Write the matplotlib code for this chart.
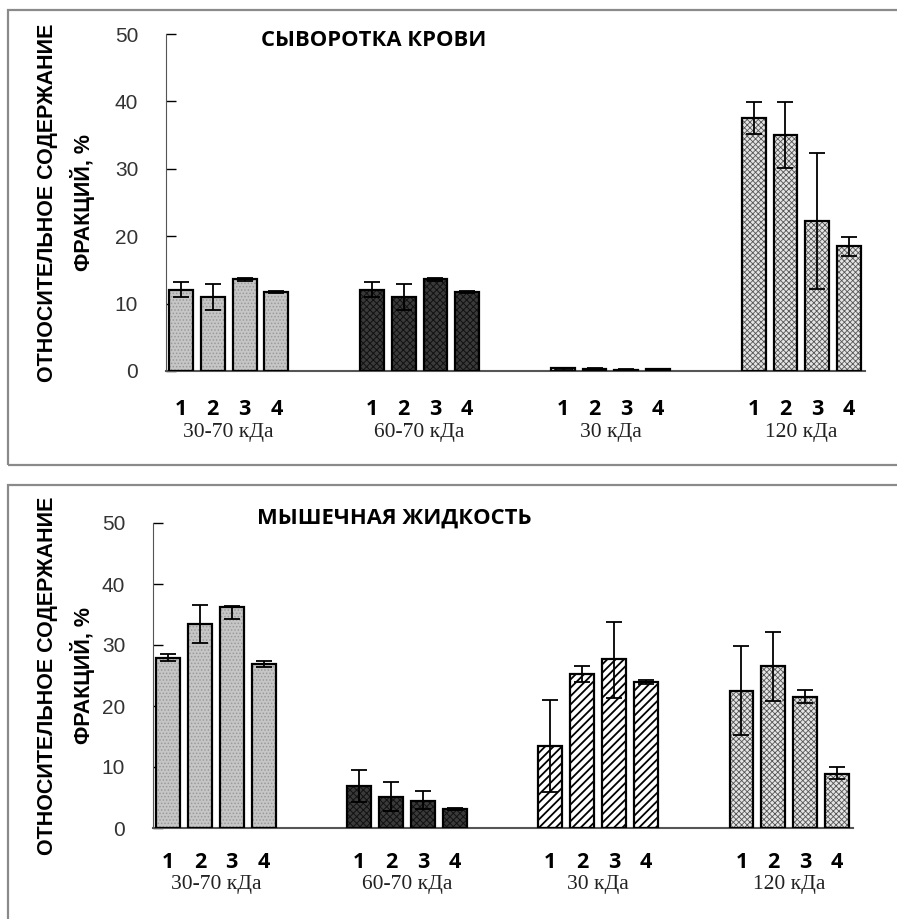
import numpy as np
import matplotlib.pyplot as plt
from matplotlib.patches import Rectangle

plt.rcParams['hatch.linewidth'] = 0.7

# Fractions and sample numbers
groups = ['30-70 кДа', '60-70 кДа', '30 кДа', '120 кДа']
samples = ['1', '2', '3', '4']

# Blood serum: means, lower and upper errors per fraction (samples 1-4)
serum_vals = [[12.0, 11.0, 13.6, 11.7],
              [12.0, 11.0, 13.6, 11.7],
              [0.4, 0.35, 0.2, 0.25],
              [37.5, 35.0, 22.2, 18.5]]
serum_lo = [[1.0, 2.0, 0.2, 0.15],
            [1.0, 2.0, 0.2, 0.15],
            [0.05, 0.05, 0.05, 0.05],
            [2.3, 4.9, 10.0, 1.4]]
serum_hi = [[1.2, 1.9, 0.2, 0.15],
            [1.2, 1.9, 0.2, 0.15],
            [0.05, 0.05, 0.05, 0.05],
            [2.4, 4.9, 10.2, 1.4]]

# Muscle fluid
muscle_vals = [[27.9, 33.5, 36.3, 26.9],
               [6.9, 5.1, 4.5, 3.1],
               [13.5, 25.2, 27.7, 23.9],
               [22.5, 26.5, 21.5, 8.8]]
muscle_lo = [[0.5, 3.1, 2.0, 0.5],
             [2.6, 2.3, 1.4, 0.2],
             [7.6, 1.2, 6.4, 0.3],
             [7.3, 5.7, 1.0, 0.7]]
muscle_hi = [[0.6, 3.1, 0.1, 0.5],
             [2.6, 2.4, 1.6, 0.2],
             [7.5, 1.4, 6.1, 0.3],
             [7.4, 5.6, 1.1, 1.2]]

# fill colour, hatch, hatch colour, hatch width for each fraction
styles = [('#c6c6c6', '.....', '#9a9a9a', 0.7),
          ('#3a3a3a', 'xxxxx', '#111111', 0.7),
          ('#ffffff', '////', '#000000', 1.3),
          ('#e4e4e4', 'xxxxxx', '#555555', 0.6)]

ylabel = 'ОТНОСИТЕЛЬНОЕ СОДЕРЖАНИЕ\nФРАКЦИЙ, %'

W, H = 897, 919
fig = plt.figure(figsize=(W / 100, H / 100), dpi=100)

# panel frames
fig.add_artist(Rectangle((8 / W, 1 - 465 / H), 1.0, (465 - 10) / H,
                         transform=fig.transFigure, fill=False,
                         edgecolor='#8a8a8a', lw=1.6))
fig.add_artist(Rectangle((8 / W, -0.05), 1.0, 0.05 + (919 - 485) / H,
                         transform=fig.transFigure, fill=False,
                         edgecolor='#8a8a8a', lw=1.6))


def draw_panel(rect, vals, lo, hi, title, title_x, title_y, num_off, grp_off):
    ax = fig.add_axes(rect)
    pos_all = []
    for g in range(4):
        pos = g * 6 + np.arange(4)
        pos_all.extend(pos)
        fc, hatch, hc, hlw = styles[g]
        with plt.rc_context({'hatch.linewidth': hlw}):
            ax.bar(pos, vals[g], width=0.75, color=fc, hatch=hatch,
                   edgecolor=hc, linewidth=0, zorder=2)
        ax.bar(pos, vals[g], width=0.75, fill=False, edgecolor='black',
               linewidth=1.6, zorder=3)
        ax.errorbar(pos, vals[g], yerr=[lo[g], hi[g]], fmt='none',
                    ecolor='black', elinewidth=1.3, capsize=5.5,
                    capthick=1.3, zorder=4)
        ax.annotate(groups[g], xy=(g * 6 + 1.5, 0),
                    xycoords=('data', 'axes fraction'),
                    xytext=(0, -grp_off), textcoords='offset pixels',
                    ha='center', va='center', fontsize=15.5,
                    family='Liberation Serif', color='#222222')
    ax.set_xticks(pos_all)
    ax.set_xticklabels(samples * 4, fontsize=15.5, fontweight='bold',
                       family='Open Sans')
    ax.tick_params(axis='x', length=0, pad=num_off)
    ax.set_xlim(-0.47, 21.5)
    ax.set_ylim(0, 50)
    ax.set_yticks([0, 10, 20, 30, 40, 50])
    ax.tick_params(axis='y', direction='in', length=7, width=1,
                   labelsize=15, labelcolor='#333333', pad=20)
    for lab in ax.get_yticklabels():
        lab.set_family('Liberation Sans')
    ax.spines['top'].set_visible(False)
    ax.spines['right'].set_visible(False)
    ax.spines['left'].set_color('#555555')
    ax.spines['bottom'].set_color('#555555')
    ax.spines['bottom'].set_linewidth(1.5)
    fig.text(title_x / W, 1 - title_y / H, title, ha='center', va='center',
             fontsize=15.8, fontweight='bold', family='Open Sans')
    fig.text(66 / W, rect[1] + rect[3] / 2, ylabel, rotation=90,
             ha='center', va='center', fontsize=15.5, fontweight='bold',
             family='Liberation Sans', linespacing=1.55)
    return ax


draw_panel([166 / W, 1 - 371 / H, (865 - 166) / W, 337 / H],
           serum_vals, serum_lo, serum_hi, 'СЫВОРОТКА КРОВИ', 374, 40, 20, 61)
draw_panel([153 / W, 1 - 828 / H, (853 - 153) / W, 305 / H],
           muscle_vals, muscle_lo, muscle_hi, 'МЫШЕЧНАЯ ЖИДКОСТЬ', 394, 518,
           17, 56)

fig.savefig('out.png', dpi=100)
